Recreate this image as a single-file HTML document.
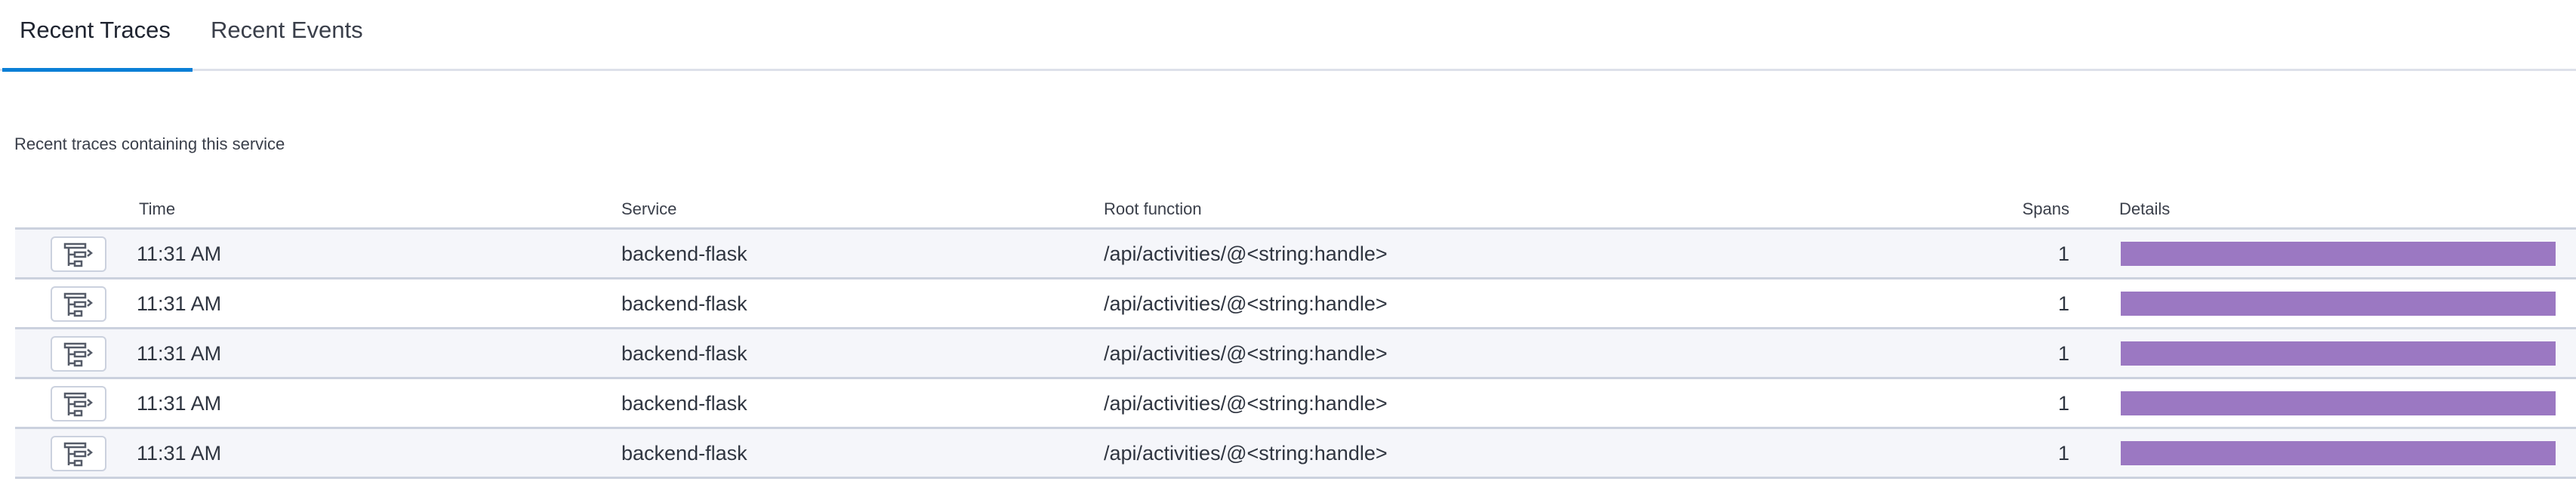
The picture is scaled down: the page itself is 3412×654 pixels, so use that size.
<!DOCTYPE html>
<html><head><meta charset="utf-8"><style>
body{margin:0;width:3412px;height:654px;background:#fff;position:relative;overflow:hidden;font-family:"Liberation Sans",sans-serif;color:#2f3540}
.a{position:absolute;white-space:nowrap}
.tab{font-size:31px;top:22px}
.hd{font-size:22px;top:264px;color:#3a3f4a}
.row{position:absolute;left:20px;width:3392px;height:64px}
.bd{position:absolute;left:20px;width:3392px;height:3px;background:#cbd1de}
.c{position:absolute;font-size:27px;line-height:64px;top:1px}
.btn{position:absolute;left:47px;top:10px;width:70px;height:43px;border:2px solid #cbd1de;border-radius:6px;background:#fff}
.bar{position:absolute;left:2789px;top:17px;width:576px;height:32px;background:#9b78c2}
</style></head><body>
<div class="a tab" style="left:26px;color:#1f2430">Recent Traces</div>
<div class="a tab" style="left:279px;color:#3a3f4a">Recent Events</div>
<div class="a" style="left:0;top:91px;width:3412px;height:3px;background:#dde1ea"></div>
<div class="a" style="left:3px;top:90px;width:252px;height:5px;background:#0a7fd6"></div>
<div class="a" style="left:19px;top:178px;font-size:22px;color:#3a3f4a">Recent traces containing this service</div>
<div class="a hd" style="left:184px">Time</div>
<div class="a hd" style="left:823px">Service</div>
<div class="a hd" style="left:1462px">Root function</div>
<div class="a hd" style="left:2600px;width:141px;text-align:right">Spans</div>
<div class="a hd" style="left:2807px">Details</div>

<div class="row" style="top:303px;background:#f5f6fa">
<div class="btn"><svg width="70" height="43" viewBox="0 0 70 43"><g fill="none" stroke="#555b68" stroke-width="2.5"><rect x="17" y="8" width="27" height="5"/><path d="M22 13V37M22 22H30M22 34H30"/><rect x="30" y="19" width="14" height="6"/><rect x="30" y="31" width="9" height="6"/><path d="M47 16l5 4-5 4"/></g></svg></div>
<div class="c" style="left:161px">11:31 AM</div><div class="c" style="left:803px">backend-flask</div><div class="c" style="left:1442px">/api/activities/@&lt;string:handle&gt;</div><div class="c" style="left:2600px;width:121px;text-align:right">1</div><div class="bar"></div></div>
<div class="row" style="top:369px;background:#fff">
<div class="btn"><svg width="70" height="43" viewBox="0 0 70 43"><g fill="none" stroke="#555b68" stroke-width="2.5"><rect x="17" y="8" width="27" height="5"/><path d="M22 13V37M22 22H30M22 34H30"/><rect x="30" y="19" width="14" height="6"/><rect x="30" y="31" width="9" height="6"/><path d="M47 16l5 4-5 4"/></g></svg></div>
<div class="c" style="left:161px">11:31 AM</div><div class="c" style="left:803px">backend-flask</div><div class="c" style="left:1442px">/api/activities/@&lt;string:handle&gt;</div><div class="c" style="left:2600px;width:121px;text-align:right">1</div><div class="bar"></div></div>
<div class="row" style="top:435px;background:#f5f6fa">
<div class="btn"><svg width="70" height="43" viewBox="0 0 70 43"><g fill="none" stroke="#555b68" stroke-width="2.5"><rect x="17" y="8" width="27" height="5"/><path d="M22 13V37M22 22H30M22 34H30"/><rect x="30" y="19" width="14" height="6"/><rect x="30" y="31" width="9" height="6"/><path d="M47 16l5 4-5 4"/></g></svg></div>
<div class="c" style="left:161px">11:31 AM</div><div class="c" style="left:803px">backend-flask</div><div class="c" style="left:1442px">/api/activities/@&lt;string:handle&gt;</div><div class="c" style="left:2600px;width:121px;text-align:right">1</div><div class="bar"></div></div>
<div class="row" style="top:501px;background:#fff">
<div class="btn"><svg width="70" height="43" viewBox="0 0 70 43"><g fill="none" stroke="#555b68" stroke-width="2.5"><rect x="17" y="8" width="27" height="5"/><path d="M22 13V37M22 22H30M22 34H30"/><rect x="30" y="19" width="14" height="6"/><rect x="30" y="31" width="9" height="6"/><path d="M47 16l5 4-5 4"/></g></svg></div>
<div class="c" style="left:161px">11:31 AM</div><div class="c" style="left:803px">backend-flask</div><div class="c" style="left:1442px">/api/activities/@&lt;string:handle&gt;</div><div class="c" style="left:2600px;width:121px;text-align:right">1</div><div class="bar"></div></div>
<div class="row" style="top:567px;background:#f5f6fa">
<div class="btn"><svg width="70" height="43" viewBox="0 0 70 43"><g fill="none" stroke="#555b68" stroke-width="2.5"><rect x="17" y="8" width="27" height="5"/><path d="M22 13V37M22 22H30M22 34H30"/><rect x="30" y="19" width="14" height="6"/><rect x="30" y="31" width="9" height="6"/><path d="M47 16l5 4-5 4"/></g></svg></div>
<div class="c" style="left:161px">11:31 AM</div><div class="c" style="left:803px">backend-flask</div><div class="c" style="left:1442px">/api/activities/@&lt;string:handle&gt;</div><div class="c" style="left:2600px;width:121px;text-align:right">1</div><div class="bar"></div></div>

<div class="bd" style="top:301px"></div>
<div class="bd" style="top:367px"></div>
<div class="bd" style="top:433px"></div>
<div class="bd" style="top:499px"></div>
<div class="bd" style="top:565px"></div>
<div class="bd" style="top:631px"></div>
</body></html>
